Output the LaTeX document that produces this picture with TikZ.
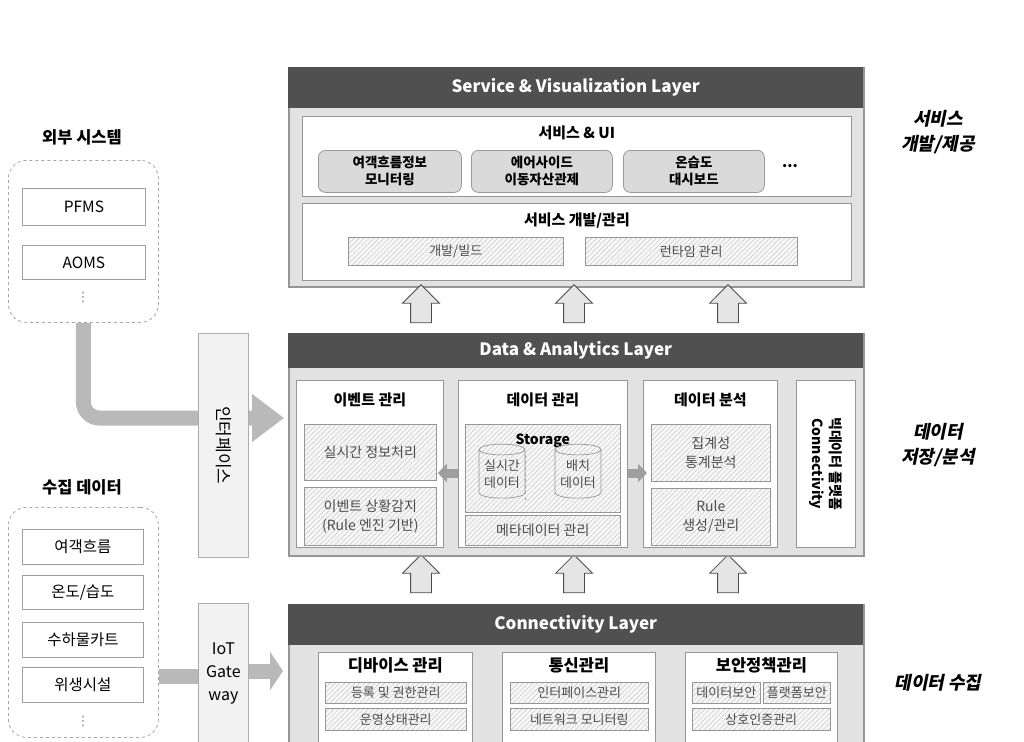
\documentclass[tikz,border=0pt]{standalone}
\usepackage{fontspec}
\setmainfont{Noto Sans CJK KR}
\newfontfamily\slantkr[FakeSlant=0.2]{Noto Sans CJK KR}
\newfontfamily\symfont{DejaVu Sans}
\usetikzlibrary{arrows.meta,positioning,shapes.geometric,shapes.arrows,patterns.meta}
\definecolor{headgray}{RGB}{80,80,80}
\definecolor{bodygray}{RGB}{226,226,226}
\definecolor{linegray}{RGB}{150,150,150}
\definecolor{flowgray}{RGB}{185,185,185}
\definecolor{hatchgray}{RGB}{200,200,200}
\definecolor{btngray}{RGB}{218,218,218}

\newcommand\fsz[2]{\fontsize{#1}{#2}\selectfont}

\tikzset{
  layerbody/.style={draw=linegray, line width=1.5pt, fill=bodygray, anchor=north west, inner sep=0pt},
  layerhead/.style={fill=headgray, text=white, anchor=north west, inner sep=0pt, font=\fsz{17}{20}\bfseries},
  panel/.style={draw=linegray, line width=0.8pt, fill=white, anchor=north west, inner sep=0pt},
  paneltitle/.style={font=\fsz{15}{18}\bfseries, inner sep=0pt},
  btn/.style={draw=gray!80, line width=0.8pt, fill=btngray, rounded corners=7pt, anchor=north west,
    inner sep=0pt, align=center, font=\fsz{13.5}{17}\bfseries},
  hatch/.style={draw=linegray, line width=0.6pt, preaction={fill=gray!6},
    pattern={Lines[angle=45,distance=3.5pt,line width=0.5pt]}, pattern color=hatchgray,
    anchor=north west, inner sep=0pt, align=center, text=black!70, font=\fsz{13}{17}},
  sysbox/.style={draw=gray!75, line width=0.8pt, fill=white, anchor=north west, inner sep=0pt, font=\fsz{15.5}{18}},
  groupbox/.style={draw=gray!70, dashed, line width=0.8pt, rounded corners=18pt, anchor=north west, inner sep=0pt},
  sidebox/.style={draw=gray!65, line width=0.8pt, fill=gray!10, anchor=north west, inner sep=0pt, align=center},
  uparrow/.style={single arrow, draw=black!70, line width=0.8pt, fill=gray!20, rotate=90,
    inner sep=0pt, inner ysep=10pt, minimum height=38pt, single arrow head extend=8pt},
  bigflow/.style={draw=flowgray, line width=15pt},
  midflow/.style={draw=gray!75, line width=9pt, -{Triangle[width=18pt,length=9pt]}},
  sidelabel/.style={align=center, font=\fsz{18}{25}\slantkr\bfseries},
  grouptitle/.style={font=\fsz{16.5}{20}\bfseries, inner sep=0pt},
  moredots/.style={text=gray, inner sep=0pt, font=\fsz{13}{15}\symfont},
}

\begin{document}
\begin{tikzpicture}[x=1pt,y=-1pt]
  \useasboundingbox (0,0) rectangle (1024,741);
  \clip (0,0) rectangle (1024,741);
  \fill[white] (0,0) rectangle (1024,741);

  % service & visualization layer
  \node[layerbody, minimum width=575pt, minimum height=219pt] (svl) at (288,67) {};
  \node[layerhead, minimum width=575pt, minimum height=41pt] (svlh) at (288,67) {Service \& Visualization Layer};
  \node[panel, minimum width=549pt, minimum height=80pt] (sui) at (302,116) {};
  \node[paneltitle, below=10pt of sui.north] (suit) {서비스 \& UI};
  \node[btn, minimum width=143pt, minimum height=42pt] (mon) at (318,150) {여객흐름정보\\모니터링};
  \node[btn, minimum width=141pt, minimum height=42pt] (air) at (471,150) {에어사이드\\이동자산관제};
  \node[btn, minimum width=141pt, minimum height=42pt] (dash) at (623,150) {온습도\\대시보드};
  \node[font=\fsz{15}{18}\bfseries] (more) at (790,166) {...};
  \node[panel, minimum width=549pt, minimum height=77pt] (sdev) at (302,203) {};
  \node[paneltitle, below=10pt of sdev.north] (sdevt) {서비스 개발/관리};
  \node[hatch, minimum width=215pt, minimum height=28pt] (build) at (348,237) {개발/빌드};
  \node[hatch, minimum width=212pt, minimum height=28pt] (runtime) at (585,237) {런타임 관리};

  % arrows between layers
  \node[uparrow] (ua1) at (421,309) {};
  \node[uparrow] (ua2) at (574,309) {};
  \node[uparrow] (ua3) at (728,309) {};
  \node[uparrow] (la1) at (421,579) {};
  \node[uparrow] (la2) at (574,579) {};
  \node[uparrow] (la3) at (728,579) {};

  % data & analytics layer
  \node[layerbody, minimum width=575pt, minimum height=222pt] (dal) at (288,333) {};
  \node[layerhead, minimum width=575pt, minimum height=35pt] (dalh) at (288,333) {Data \& Analytics Layer};
  \node[panel, minimum width=147pt, minimum height=167pt] (ev) at (296,380) {};
  \node[paneltitle, below=13pt of ev.north] (evt) {이벤트 관리};
  \node[hatch, minimum width=132pt, minimum height=56pt, font=\fsz{14}{19}] (ev1) at (304,424) {실시간 정보처리};
  \node[hatch, minimum width=132pt, minimum height=58pt, font=\fsz{14}{19}] (ev2) at (304,487) {이벤트 상황감지\\(Rule 엔진 기반)};
  \node[panel, minimum width=169pt, minimum height=167pt] (dm) at (458,380) {};
  \node[paneltitle, below=13pt of dm.north] (dmt) {데이터 관리};
  \node[hatch, minimum width=155pt, minimum height=88pt] (st) at (465,424) {};
  \node[font=\fsz{14}{17}\bfseries, below=6pt of st.north] (stt) {Storage};
  \node[cylinder, shape border rotate=90, draw=linegray, line width=0.7pt, aspect=0.3,
    minimum width=46pt, minimum height=54pt, inner sep=0pt, align=center,
    text=black!70, font=\fsz{13}{17}] (rt) at (502,474) {실시간\\데이터};
  \node[cylinder, shape border rotate=90, draw=linegray, line width=0.7pt, aspect=0.3,
    minimum width=46pt, minimum height=54pt, inner sep=0pt, align=center,
    text=black!70, font=\fsz{13}{17}] (bat) at (578,474) {배치\\데이터};
  \draw[gray!70, dashed] (rt.east |- 0,455) -- (rt.east |- 0,500);
  \node[hatch, minimum width=155pt, minimum height=30pt, font=\fsz{14}{17}] (meta) at (465,515) {메타데이터 관리};
  \node[panel, minimum width=134pt, minimum height=167pt] (da) at (643,380) {};
  \node[paneltitle, below=13pt of da.north] (dat) {데이터 분석};
  \node[hatch, minimum width=119pt, minimum height=57pt, font=\fsz{14}{19}] (da1) at (651,424) {집계성\\통계분석};
  \node[hatch, minimum width=119pt, minimum height=57pt, font=\fsz{14}{19}] (da2) at (651,488) {Rule\\생성/관리};
  \node[panel, minimum width=59pt, minimum height=167pt] (bd) at (796,380) {};
  \node[rotate=-90, align=center, font=\fsz{14}{18}\bfseries, inner sep=0pt] (bdt) at (bd.center) {빅데이터 플랫폼\\Connectivity};
  \draw[midflow, shorten >=-6pt] (dm.west |- 0,473) -- (ev.east |- 0,473);
  \draw[midflow, shorten >=-4pt] (dm.east |- 0,473) -- (da.west |- 0,473);

  % connectivity layer
  \node[layerbody, minimum width=575pt, minimum height=160pt] (cl) at (288,604) {};
  \node[layerhead, minimum width=575pt, minimum height=41pt] (clh) at (288,604) {Connectivity Layer};
  \node[panel, minimum width=154pt, minimum height=100pt] (dev) at (318,652) {};
  \node[grouptitle, below=5pt of dev.north] (devt) {디바이스 관리};
  \node[hatch, minimum width=141pt, minimum height=21pt] (dev1) at (325,682) {등록 및 권한관리};
  \node[hatch, minimum width=141pt, minimum height=22pt] (dev2) at (325,708) {운영상태관리};
  \node[panel, minimum width=153pt, minimum height=100pt] (com) at (502,652) {};
  \node[grouptitle, below=5pt of com.north] (comt) {통신관리};
  \node[hatch, minimum width=138pt, minimum height=21pt] (com1) at (510,682) {인터페이스관리};
  \node[hatch, minimum width=138pt, minimum height=22pt] (com2) at (510,708) {네트워크 모니터링};
  \node[panel, minimum width=152pt, minimum height=100pt] (sec) at (685,652) {};
  \node[grouptitle, below=5pt of sec.north] (sect) {보안정책관리};
  \node[hatch, minimum width=68pt, minimum height=21pt] (sec1) at (692,682) {데이터보안};
  \node[hatch, minimum width=67pt, minimum height=21pt] (sec2) at (763,682) {플랫폼보안};
  \node[hatch, minimum width=138pt, minimum height=22pt] (sec3) at (692,708) {상호인증관리};

  % external systems
  \node[grouptitle] (extt) at (82,137) {외부 시스템};
  \node[groupbox, minimum width=150pt, minimum height=162pt] (ext) at (8,160) {};
  \node[sysbox, minimum width=123pt, minimum height=37pt] (pfms) at (22,188) {PFMS};
  \node[sysbox, minimum width=123pt, minimum height=34pt] (aoms) at (22,245) {AOMS};
  \node[moredots] (extdots) at (83,297) {⋮};

  % collected data
  \node[grouptitle] (colt) at (82,487) {수집 데이터};
  \node[groupbox, minimum width=150pt, minimum height=230pt] (col) at (8,507) {};
  \node[sysbox, minimum width=121pt, minimum height=35pt] (pax) at (22,529) {여객흐름};
  \node[sysbox, minimum width=121pt, minimum height=34pt] (temp) at (22,575) {온도/습도};
  \node[sysbox, minimum width=121pt, minimum height=35pt] (cart) at (22,622) {수하물카트};
  \node[sysbox, minimum width=121pt, minimum height=35pt] (wc) at (22,667) {위생시설};
  \node[moredots] (coldots) at (83,721) {⋮};

  % flows into the platform
  \draw[bigflow, rounded corners=16pt, -{Triangle[width=46pt,length=32pt]}, shorten >=4pt]
    (ext.south) |- (dal.west |- 0,418);
  \node[sidebox, minimum width=50pt, minimum height=224pt] (ifc) at (198,333) {};
  \node[rotate=-90, font=\fsz{17}{20}, inner sep=0pt] (ifct) at (ifc.center) {인터페이스};
  \draw[bigflow] (col.east |- 0,676) -- (198,676);
  \node[sidebox, minimum width=50pt, minimum height=140pt, font=\fsz{16}{23}] (iot) at (198,603) {IoT\\Gate\\way};
  \draw[bigflow, -{Triangle[width=38pt,length=13pt]}, shorten >=5pt] (iot.east |- 0,671) -- (cl.west |- 0,671);

  % side labels
  \node[sidelabel] (lsvc) at (938,132) {서비스\\개발/제공};
  \node[sidelabel] (ldata) at (938,445) {데이터\\저장/분석};
  \node[sidelabel] (lcoll) at (938,683) {데이터 수집};
\end{tikzpicture}
\end{document}
